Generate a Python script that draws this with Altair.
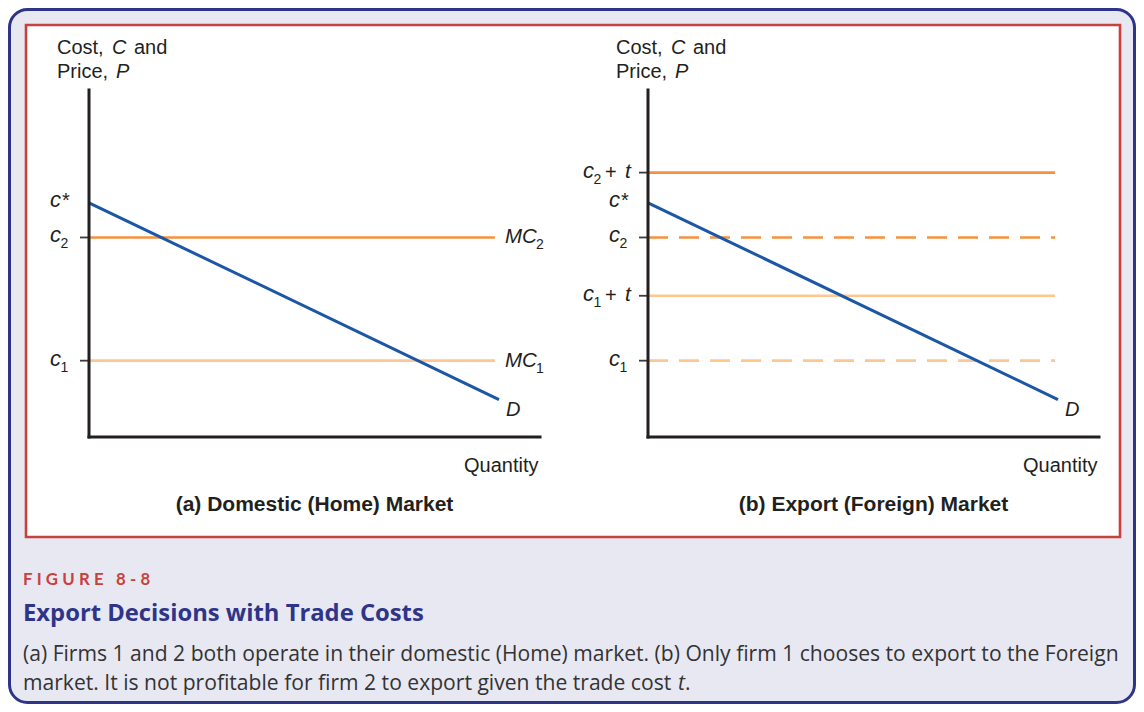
import altair as alt
import pandas as pd

# ---------------- data (economic values) ----------------
cost_names = ["c1", "c2"]
cost_values = [2.2, 5.75]          # marginal costs c1, c2
trade_cost = 1.87                   # t
c_star = 6.75                       # choke price c*
demand_q = [0.0, 10.0]              # demand curve endpoints (quantity)
demand_p = [6.75, 1.08]             # demand curve endpoints (price)
home_mc_end = 9.9                   # quantity where the MC lines stop (home)
export_mc_end = 9.93                # quantity where the cost lines stop (export)
q_max = 11.0                        # length of quantity axis
p_max = 10.0                        # height of price axis

c1, c2 = cost_values
t = trade_cost

# ---------------- style ----------------
SANS = "Liberation Sans"
CAP = "Open Sans"
ORANGE = "#f6923f"
LIGHT = "#fdc793"
BLUE = "#1b57a6"
INK = "#231f20"
RED = "#c9413d"
NAVY = "#2e3589"
LAV = "#e8e8f2"
BODY = "#333333"

one = pd.DataFrame({"k": [0]})


def txt(s, x, y, size, color=INK, weight="normal", style="normal", align="left", font=SANS):
    return alt.Chart(one).mark_text(
        text=s, align=align, baseline="alphabetic", font=font, fontSize=size,
        fontWeight=weight, fontStyle=style, color=color,
    ).encode(x=alt.value(x), y=alt.value(y))


ys = alt.Scale(domain=[0, p_max], range=[429, 82])


def Y(field):
    return alt.Y(field, scale=ys, axis=None)


def panel(axis_px, solid, dashed, ticks_short, ticks_long, title, title_x):
    xs = alt.Scale(domain=[0, q_max], range=[axis_px, axis_px + 451])

    def X(field):
        return alt.X(field, scale=xs, axis=None)

    layers = []
    # horizontal cost lines
    layers.append(
        alt.Chart(solid).mark_rule(strokeWidth=2.7).encode(
            x=X("q0:Q"), x2="q1:Q", y=Y("value:Q"), color=alt.Color("col:N", scale=None)
        )
    )
    if dashed is not None:
        layers.append(
            alt.Chart(dashed).mark_rule(strokeWidth=2.7, strokeDash=[20, 11]).encode(
                x=X("q0:Q"), x2="q1:Q", y=Y("value:Q"), color=alt.Color("col:N", scale=None)
            )
        )
    # demand
    dem = pd.DataFrame({"q": demand_q, "p": demand_p})
    layers.append(
        alt.Chart(dem).mark_line(color=BLUE, strokeWidth=3).encode(x=X("q:Q"), y=Y("p:Q"))
    )
    layers.append(
        alt.Chart(dem.tail(1)).mark_text(
            text="D", align="left", baseline="alphabetic", dx=7, dy=16,
            font=SANS, fontSize=20, fontStyle="italic", color=INK,
        ).encode(x=X("q:Q"), y=Y("p:Q"))
    )
    # ticks (all labelled levels except c*)
    all_ticks = pd.concat([ticks_short, ticks_long]) if ticks_long is not None else ticks_short
    layers.append(
        alt.Chart(all_ticks).mark_rule(color="#3c3a3a", strokeWidth=1.8).encode(
            x=alt.value(axis_px - 9), x2=alt.value(axis_px), y=Y("value:Q")
        )
    )

    def clabel(df, cx):
        return [
            alt.Chart(df).mark_text(
                text="c", align="left", baseline="alphabetic", dy=5,
                font=SANS, fontSize=22, fontStyle="italic", color=INK,
            ).encode(x=alt.value(cx), y=Y("value:Q")),
            alt.Chart(df).mark_text(
                align="left", baseline="alphabetic", dy=11,
                font=SANS, fontSize=14, color=INK,
            ).encode(x=alt.value(cx + 10.5), y=Y("value:Q"), text="sub:N"),
        ]

    layers += clabel(ticks_short, axis_px - 39)
    if ticks_long is not None:
        cx = axis_px - 65
        layers += clabel(ticks_long, cx)
        layers.append(
            alt.Chart(ticks_long).mark_text(
                text="+", align="left", baseline="alphabetic", dy=6,
                font=SANS, fontSize=20, color=INK,
            ).encode(x=alt.value(cx + 22), y=Y("value:Q"))
        )
        layers.append(
            alt.Chart(ticks_long).mark_text(
                text="t", align="left", baseline="alphabetic", dy=5,
                font=SANS, fontSize=21, fontStyle="italic", color=INK,
            ).encode(x=alt.value(cx + 42), y=Y("value:Q"))
        )
    # c* label (no tick)
    cs = pd.DataFrame({"value": [c_star]})
    layers.append(
        alt.Chart(cs).mark_text(
            text="c", align="left", baseline="alphabetic", dy=4,
            font=SANS, fontSize=22, fontStyle="italic", color=INK,
        ).encode(x=alt.value(axis_px - 39), y=Y("value:Q"))
    )
    layers.append(
        alt.Chart(cs).mark_text(
            text="*", align="left", baseline="alphabetic", dy=4,
            font=SANS, fontSize=20, color=INK,
        ).encode(x=alt.value(axis_px - 27), y=Y("value:Q"))
    )
    # axes
    ax = pd.DataFrame({"q0": [0.0], "q1": [q_max], "p0": [0.0], "p1": [p_max]})
    layers.append(
        alt.Chart(ax).mark_rule(color=INK, strokeWidth=3, strokeCap="square").encode(
            x=X("q0:Q"), x2="q1:Q", y=Y("p0:Q")
        )
    )
    layers.append(
        alt.Chart(ax).mark_rule(color=INK, strokeWidth=3, strokeCap="square").encode(
            x=X("q0:Q"), y=Y("p0:Q"), y2="p1:Q"
        )
    )
    # "Quantity"
    layers.append(
        alt.Chart(ax).mark_text(
            text="Quantity", align="right", baseline="alphabetic", dx=-1.5, dy=35,
            font=SANS, fontSize=20, color=INK,
        ).encode(x=X("q1:Q"), y=Y("p0:Q"))
    )
    # y title
    tx = axis_px - 32
    layers += [
        txt("Cost,", tx, 46, 20),
        txt("C", tx + 55, 46, 20, style="italic"),
        txt("and", tx + 77, 46, 20),
        txt("Price,", tx, 70, 20),
        txt("P", tx + 59, 70, 20, style="italic"),
        txt(title, title_x, 502.5, 21, weight="bold", align="center"),
    ]
    return alt.layer(*layers), xs


# ---- panel (a) ----
home_solid = pd.DataFrame({"value": [c2, c1], "q0": [0.0, 0.0], "q1": [home_mc_end] * 2,
                           "col": [ORANGE, LIGHT]})
home_ticks = pd.DataFrame({"value": [c2, c1], "sub": ["2", "1"]})
home_mc = pd.DataFrame({"value": [c2, c1], "sub": ["2", "1"], "q1": [home_mc_end] * 2})

panel_a, xa = panel(81, home_solid, None, home_ticks, None,
                    "(a) Domestic (Home) Market", 306.5)

mc_main = alt.Chart(home_mc).mark_text(
    text="MC", align="left", baseline="alphabetic", dx=10, dy=6,
    font=SANS, fontSize=20.5, fontStyle="italic", color=INK,
).encode(x=alt.X("q1:Q", scale=xa, axis=None), y=Y("value:Q"))
mc_sub = alt.Chart(home_mc).mark_text(
    align="left", baseline="alphabetic", dx=41, dy=12,
    font=SANS, fontSize=14, color=INK,
).encode(x=alt.X("q1:Q", scale=xa, axis=None), y=Y("value:Q"), text="sub:N")
panel_a = alt.layer(panel_a, mc_main, mc_sub)

# ---- panel (b) ----
exp_solid = pd.DataFrame({"value": [c2 + t, c1 + t], "q0": [0.0, 0.0], "q1": [export_mc_end] * 2,
                          "col": [ORANGE, LIGHT]})
exp_dashed = pd.DataFrame({"value": [c2, c1], "q0": [0.0, 0.0], "q1": [export_mc_end] * 2,
                           "col": [ORANGE, LIGHT]})
exp_short = pd.DataFrame({"value": [c2, c1], "sub": ["2", "1"]})
exp_long = pd.DataFrame({"value": [c2 + t, c1 + t], "sub": ["2", "1"]})

panel_b, xb = panel(640, exp_solid, exp_dashed, exp_short, exp_long,
                    "(b) Export (Foreign) Market", 865.5)

# ---- frame and caption ----
frame = alt.Chart(one).mark_rect(
    fill=LAV, stroke=NAVY, strokeWidth=3, cornerRadius=18
).encode(x=alt.value(1.5), x2=alt.value(1126.5), y=alt.value(1.5), y2=alt.value(694.5))
box = alt.Chart(one).mark_rect(
    fill="white", stroke=RED, strokeWidth=2.6
).encode(x=alt.value(18), x2=alt.value(1112), y=alt.value(17), y2=alt.value(529))

sp = "\u2005"
fig_label = sp.join(list("FIGURE")) + sp + " " + sp + sp.join(list("8-8"))
caption = [
    txt(fig_label, 15, 577, 16.8, color=RED, weight="bold", font="Lato"),
    txt("Export Decisions with Trade Costs", 15, 613, 23.8, color=NAVY, weight="bold", font=CAP),
    txt("(a) Firms 1 and 2 both operate in their domestic (Home) market. (b) Only firm 1 chooses to export to the Foreign",
        15, 653, 21.1, color=BODY, font=CAP),
    txt("market. It is not profitable for firm 2 to export given the trade cost", 15, 682, 21.1,
        color=BODY, font=CAP),
    txt("t", 670, 682, 21.1, color=BODY, style="italic", font=CAP),
    txt(".", 677, 682, 21.1, color=BODY, font=CAP),
]

chart = alt.layer(frame, box, panel_a, panel_b, *caption).resolve_scale(x="independent").properties(
    width=1128, height=696, autosize=alt.AutoSizeParams(type="none"), padding=0,
    background="white",
).configure_view(stroke=None)

chart.save("out.html", embed_options={"renderer": "svg", "actions": False})
